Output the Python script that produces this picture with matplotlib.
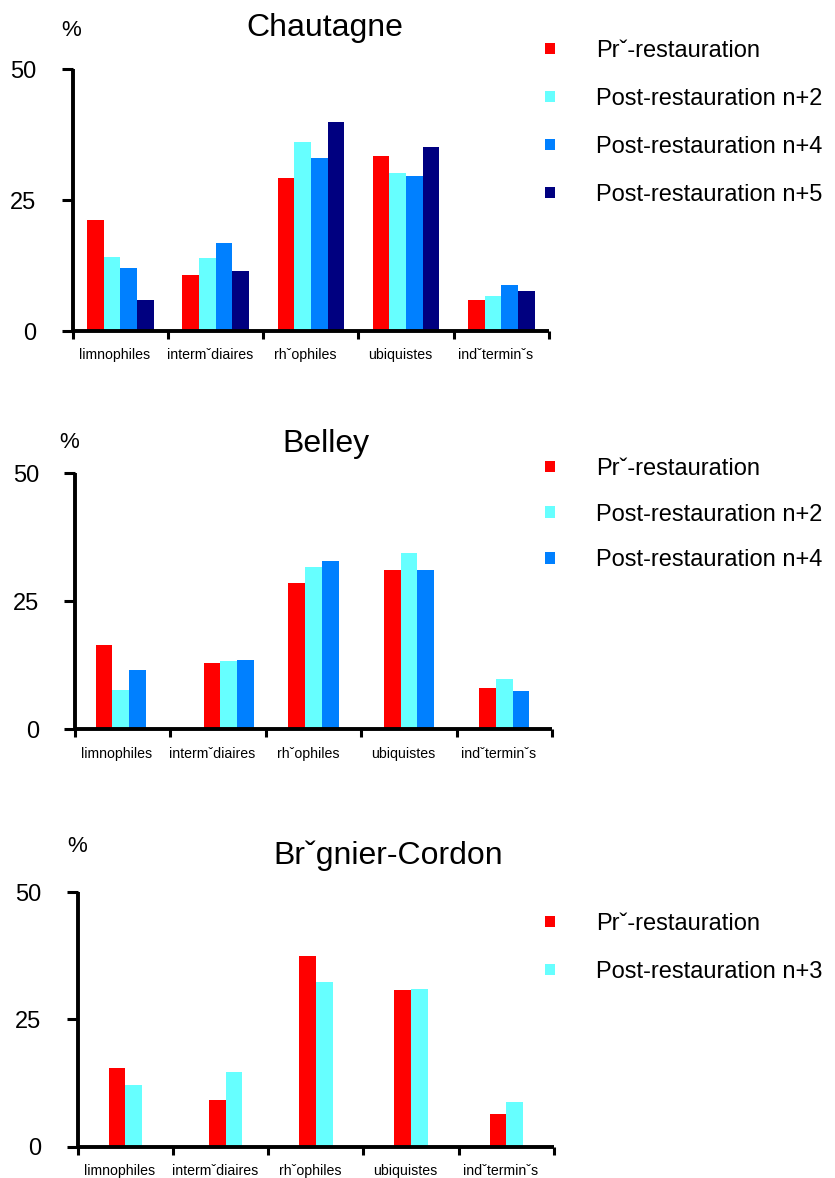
import matplotlib
matplotlib.use('Agg')
import matplotlib.pyplot as plt
import numpy as np

plt.rcParams['font.family'] = ['Liberation Sans', 'DejaVu Sans']

W, H = 835, 1178  # figure size in pixels (dpi 100)

categories = ['limnophiles', 'intermˇdiaires', 'rhˇophiles', 'ubiquistes', 'indˇterminˇs']

# Chautagne
chautagne_pre = [21.2, 10.7, 29.2, 33.5, 5.9]
chautagne_n2 = [14.2, 14.0, 36.2, 30.1, 6.6]
chautagne_n4 = [12.0, 16.9, 33.1, 29.7, 8.8]
chautagne_n5 = [5.9, 11.4, 40.0, 35.1, 7.6]

# Belley
belley_pre = [16.4, 12.9, 28.5, 31.1, 8.1]
belley_n2 = [7.7, 13.4, 31.7, 34.4, 9.8]
belley_n4 = [11.5, 13.6, 32.8, 31.1, 7.4]

# Brégnier-Cordon
bregnier_pre = [15.4, 9.2, 37.5, 30.8, 6.4]
bregnier_n3 = [12.0, 14.6, 32.4, 31.0, 8.8]

RED, CYAN, BLUE, NAVY = '#ff0000', '#66ffff', '#0080ff', '#000080'

fig = plt.figure(figsize=(W / 100, H / 100), dpi=100)


def fx(px):
    return px / W


def fy(py):
    return 1 - py / H


def draw_panel(box, title, title_xy, pct_xy, series, labels, colors, legend_top, shift,
               spacing=1.1):
    left, top, right, bottom = box
    ax = fig.add_axes([fx(left), fy(bottom), (right - left) / W, (bottom - top) / H])
    n = len(series)
    w = 0.175
    x = np.arange(len(categories)) + 0.5 + np.array(shift)
    handles = []
    for i, (vals, c) in enumerate(zip(series, colors)):
        b = ax.bar(x + (i - (n - 1) / 2) * w, vals, w, color=c, linewidth=0, zorder=2)
        handles.append(b)
    ax.set_xlim(0, 5)
    ax.set_ylim(0, 50)
    for s in ['top', 'right']:
        ax.spines[s].set_visible(False)
    for s in ['left', 'bottom']:
        ax.spines[s].set_linewidth(2.8)
        ax.spines[s].set_capstyle('butt')
    ax.set_yticks([0, 25, 50])
    ax.set_yticklabels(['0', '25', '50'], fontsize=17)
    ax.tick_params(axis='y', length=8, width=2.2, pad=18)
    ax.set_xticks(range(6))
    ax.set_xticklabels([])
    ax.tick_params(axis='x', which='major', length=5.5, width=2.2)
    ax.set_xticks(np.arange(5) + 0.44, minor=True)
    ax.set_xticklabels(categories, minor=True, fontsize=10.2)
    ax.tick_params(axis='x', which='minor', length=0, pad=12.5)

    fig.text(fx(title_xy[0]), fy(title_xy[1]), title, fontsize=23, ha='center', va='baseline')
    fig.text(fx(pct_xy[0]), fy(pct_xy[1]), '%', fontsize=16, ha='center', va='center')

    ax.legend(handles, labels, loc='upper left',
              bbox_to_anchor=(fx(545), fy(legend_top)), bbox_transform=fig.transFigure,
              frameon=False, fontsize=17, handlelength=0.42, handleheight=0.38,
              handletextpad=1.75, labelspacing=spacing, borderpad=0, borderaxespad=0)
    return ax


draw_panel((72.7, 69.3, 549, 331), 'Chautagne', (325, 36), (71.6, 31),
           [chautagne_pre, chautagne_n2, chautagne_n4, chautagne_n5],
           ['Prˇ-restauration', 'Post-restauration n+2', 'Post-restauration n+4',
            'Post-restauration n+5'],
           [RED, CYAN, BLUE, NAVY], 40, [0, 0, 0, 0, 0])

draw_panel((75, 473, 552, 729.3), 'Belley', (326, 451.7), (69, 442),
           [belley_pre, belley_n2, belley_n4],
           ['Prˇ-restauration', 'Post-restauration n+2', 'Post-restauration n+4'],
           [RED, CYAN, BLUE], 458, [-0.02, 0.11, 0, 0, 0], spacing=1.0)

draw_panel((77.7, 892.3, 554, 1146.5), 'Brˇgnier-Cordon', (388, 864), (77, 846),
           [bregnier_pre, bregnier_n3],
           ['Prˇ-restauration', 'Post-restauration n+3'],
           [RED, CYAN], 913, [0, 0.055, 0, 0, 0])

fig.savefig('out.png', dpi=100)
